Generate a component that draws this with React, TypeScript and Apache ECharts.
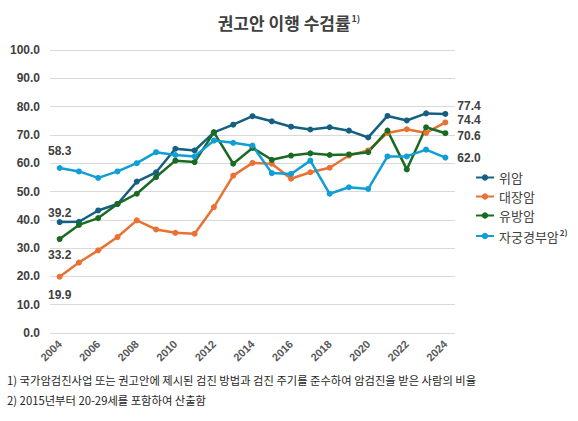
import * as echarts from 'echarts';
import { useEffect, useRef } from 'react';

const years = [
  '2004', '2005', '2006', '2007', '2008', '2009', '2010', '2011', '2012', '2013', '2014',
  '2015', '2016', '2017', '2018', '2019', '2020', '2021', '2022', '2023', '2024',
];

const seriesNames = ['위암', '대장암', '유방암', '자궁경부암'];

const stomach = [39.2, 39.3, 43.3, 45.6, 53.5, 56.8, 65.1, 64.5, 70.9, 73.6, 76.6, 74.8, 72.9, 71.9, 72.7, 71.5, 69.1, 76.7, 75.1, 77.6, 77.4];
const colorectal = [19.9, 24.9, 29.2, 33.9, 39.8, 36.6, 35.4, 35.1, 44.5, 55.6, 60.1, 59.8, 54.5, 56.8, 58.4, 62.7, 64.5, 70.7, 72.0, 70.7, 74.4];
const breast = [33.2, 38.2, 40.6, 45.6, 49.2, 55.1, 60.9, 60.4, 70.9, 59.8, 65.4, 61.2, 62.7, 63.5, 62.9, 63.1, 63.9, 71.5, 57.8, 72.7, 70.6];
const cervical = [58.3, 57.1, 54.8, 57.1, 60.0, 63.9, 62.9, 62.4, 68.0, 67.2, 66.2, 56.5, 56.2, 60.9, 49.2, 51.5, 50.9, 62.4, 62.4, 64.8, 62.0];

const footnotes = [
  '1) 국가암검진사업 또는 권고안에 제시된 검진 방법과 검진 주기를 준수하여 암검진을 받은 사람의 비율',
  '2) 2015년부터 20-29세를 포함하여 산출함',
];

const colors = ['#156082', '#e97132', '#196b24', '#0f9ed5'];
const numFont = "'Liberation Sans', Arial, sans-serif";
const korFont = "'Noto Sans CJK KR', sans-serif";
const textColor = '#404040';

// first / last point labels
const endLabels: any[] = [
  [{ position: 'top', distance: 1 }, { position: 'right', distance: 9, offset: [0, -8] }],
  [{ position: 'bottom', distance: 10 }, { position: 'right', distance: 9, offset: [0, -2] }],
  [{ position: 'bottom', distance: 8 }, { position: 'right', distance: 9, offset: [0, 3] }],
  [{ position: 'top', distance: 9 }, { position: 'right', distance: 9 }],
];

function withEndLabels(values: number[], idx: number) {
  return values.map((v, i) => {
    const cfg = i === 0 ? endLabels[idx][0] : i === values.length - 1 ? endLabels[idx][1] : null;
    if (!cfg) return v;
    return { value: v, label: { show: true, ...cfg } };
  });
}

export default function App() {
  const chartRef = useRef<HTMLDivElement>(null);

  useEffect(() => {
    if (!chartRef.current) return;
    const chart = echarts.init(chartRef.current, null, { renderer: 'svg' });
    const allValues = [stomach, colorectal, breast, cervical];

    chart.setOption({
      animation: false,
      backgroundColor: '#ffffff',
      title: {
        text: '{t|권고안 이행 수검률}{s|1)}',
        left: 'center',
        top: 9,
        textStyle: {
          rich: {
            t: { fontFamily: korFont, fontSize: 17, fontWeight: 'bold', color: textColor },
            s: { fontFamily: korFont, fontSize: 9, fontWeight: 'bold', color: textColor, verticalAlign: 'top', padding: [0, 0, 6, 1] },
          },
        },
      },
      legend: {
        orient: 'vertical',
        left: 470,
        top: 166,
        itemWidth: 18,
        itemHeight: 8,
        itemGap: 6,
        data: seriesNames,
        formatter: (name: string) => (name === '자궁경부암' ? `{n|${name}}{s|2)}` : `{n|${name}}`),
        textStyle: {
          rich: {
            n: { fontFamily: korFont, fontSize: 13, color: textColor, lineHeight: 16 },
            s: { fontFamily: korFont, fontSize: 8, fontWeight: 'bold', color: textColor, verticalAlign: 'top', padding: [0, 0, 6, 1] },
          },
        },
      },
      grid: { left: 50, right: 123, top: 50, bottom: 88 },
      xAxis: {
        type: 'category',
        data: years,
        boundaryGap: true,
        axisLine: { show: false },
        axisTick: { show: false },
        axisLabel: {
          interval: 1,
          rotate: 45,
          margin: 9,
          fontFamily: numFont,
          fontSize: 11,
          fontWeight: 'bold',
          color: '#595959',
        },
      },
      yAxis: {
        type: 'value',
        min: 0,
        max: 100,
        interval: 10,
        axisLabel: {
          margin: 10,
          formatter: (v: number) => v.toFixed(1),
          fontFamily: numFont,
          fontSize: 12,
          fontWeight: 'bold',
          color: textColor,
        },
        splitLine: { lineStyle: { color: '#d9d9d9', width: 1 } },
      },
      series: seriesNames.map((name, i) => ({
        name,
        type: 'line',
        data: withEndLabels(allValues[i], i),
        symbol: 'circle',
        symbolSize: 6,
        color: colors[i],
        lineStyle: { width: 2.5, color: colors[i] },
        itemStyle: { color: colors[i] },
        label: {
          show: false,
          formatter: (p: any) => Number(p.value).toFixed(1),
          fontFamily: numFont,
          fontSize: 12,
          lineHeight: 10,
          fontWeight: 'bold',
          color: textColor,
        },
      })),
      graphic: footnotes.map((t, i) => ({
        type: 'text',
        left: 7,
        top: 374 + i * 20,
        style: { text: t, fontFamily: korFont, fontSize: 11.3, fill: '#262626' },
      })),
    });

    return () => chart.dispose();
  }, []);

  return (
    <div
      ref={chartRef}
      style={{ position: 'fixed', left: 0, top: 0, width: 578, height: 421 }}
    />
  );
}
